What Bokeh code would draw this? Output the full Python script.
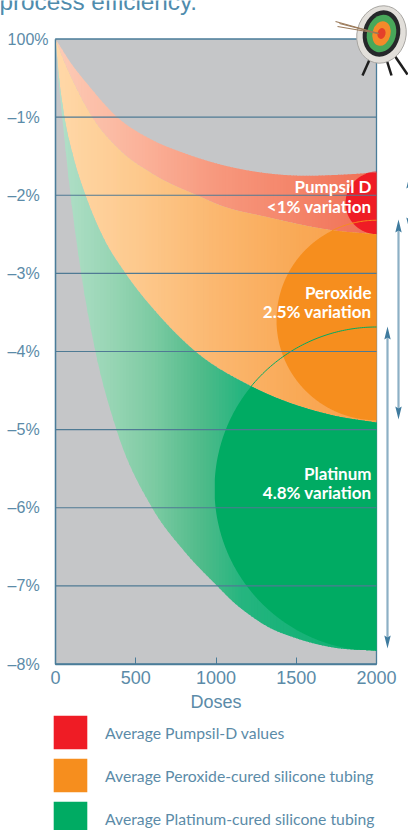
import numpy as np
from bokeh.plotting import figure
from bokeh.models import LinearAxis, FixedTicker, Legend, LegendItem, Range1d
from bokeh.core.properties import value
from bokeh.embed import file_html
from bokeh.resources import INLINE

# ---------- data ----------
pumpsil_upper_x = [0, 100, 200, 384, 600, 800, 1028, 1250, 1520, 1750, 2000]
pumpsil_upper_y = [0, -.32, -.58, -1, -1.29, -1.46, -1.607, -1.70, -1.75, -1.74, -1.71]
pumpsil_lower_x = [0, 50, 100, 229, 400, 600, 903, 1028, 1320, 1733, 2000]
pumpsil_lower_y = [0, -.27, -.5, -1, -1.42, -1.72, -2.02, -2.13, -2.28, -2.45, -2.5]
peroxide_lower_x = [0, 25, 56, 110, 187, 300, 436, 650, 872, 1215, 1733, 2000]
peroxide_lower_y = [0, -.55, -1, -1.5, -2, -2.55, -3, -3.55, -4, -4.44, -4.82, -4.91]
platinum_lower_x = [0, 20, 42, 94, 160, 249, 380, 602, 800, 1007, 1110, 1215, 1320, 1500, 1733, 2000]
platinum_lower_y = [0, -.55, -1, -2, -3, -4, -5, -6, -6.55, -7, -7.21, -7.38, -7.52, -7.67, -7.79, -7.83]
x_ticks = [0, 500, 1000, 1500, 2000]
y_ticks = [0, -1, -2, -3, -4, -5, -6, -7, -8]
y_labels = ["100%", "–1%\u00a0\u00a0", "–2%\u00a0\u00a0", "–3%\u00a0\u00a0", "–4%\u00a0\u00a0", "–5%\u00a0\u00a0", "–6%\u00a0\u00a0", "–7%\u00a0\u00a0", "–8%\u00a0\u00a0"]
band_centres = {"red": -2.1, "orange": -3.6, "green": -5.76}
band_radii_px = {"red": 31, "orange": 100, "green": 162}
legend_labels = ["Average Pumpsil-D values", "Average Peroxide-cured silicone tubing", "Average Platinum-cured silicone tubing"]

RED, ORANGE, GREEN = "#EF1C25", "#F68E1E", "#00AB63"
BLUE = "#5B8BA8"
DARK = "#4A7C99"
GREY = "#C5C6C8"
FONT = "Liberation Sans"
NARROW = "Lato"

W, H = 408, 830
L, R, T, B = 55, 376, 38.5, 663.5
sx = 2000 / (R - L)
sy = 8 / (B - T)
def X(px): return (np.asarray(px, float) - L) * sx
def Y(py): return -(np.asarray(py, float) - T) * sy

p = figure(width=W, height=H, output_backend="svg", toolbar_location=None,
           x_axis_type=None, y_axis_type=None, min_border=0,
           x_range=Range1d(float(X(0)), float(X(W))), y_range=Range1d(float(Y(H)), float(Y(0))),
           outline_line_color=None, background_fill_color="white", border_fill_color="white")
p.grid.visible = False

p.quad(left=[0], right=[2000], top=[0], bottom=[-8], fill_color=GREY, line_color=DARK, line_width=1.3)

grid_x = np.linspace(0, 2000, 801)

def smooth(xk, yk):
    xk, yk = np.asarray(xk, float), np.asarray(yk, float)
    m = np.gradient(yk, xk)
    i = np.clip(np.searchsorted(xk, grid_x, side="right") - 1, 0, len(xk) - 2)
    h = xk[i + 1] - xk[i]
    t = (grid_x - xk[i]) / h
    return ((2*t**3 - 3*t**2 + 1) * yk[i] + (t**3 - 2*t**2 + t) * h * m[i]
            + (-2*t**3 + 3*t**2) * yk[i + 1] + (t**3 - t**2) * h * m[i + 1])

up = smooth(pumpsil_upper_x, pumpsil_upper_y)
lo1 = smooth(pumpsil_lower_x, pumpsil_lower_y)
lo2 = smooth(peroxide_lower_x, peroxide_lower_y)
lo3 = smooth(platinum_lower_x, platinum_lower_y)

def hex_rgb(h): return np.array([int(h[i:i+2], 16) for i in (1, 3, 5)], float)
def ramp(stops, xx):
    pos = [s[0] for s in stops]
    cols = np.array([hex_rgb(s[1]) for s in stops])
    out = np.column_stack([np.interp(xx, pos, cols[:, i]) for i in range(3)])
    return ["#%02x%02x%02x" % tuple(int(round(v)) for v in c) for c in out]

red_ramp = [(0, "#FCCBB6"), (500, "#FBB39B"), (1000, "#F7987D"), (1500, "#F48469"), (2000, "#F06F55")]
org_ramp = [(0, "#FFD8A8"), (500, "#FDC98D"), (1000, "#FBB76F"), (1500, "#F9A956"), (2000, "#F8A04A")]
grn_ramp = [(0, "#B3E0C9"), (343, "#97D5B4"), (592, "#7DCBA3"), (903, "#4FBB8A"), (1152, "#25B57F"), (1400, "#1AB37A"), (2000, "#10AF70")]

def band(top, bottom, stops, step=8):
    idx = list(range(0, len(grid_x) - 1, step))
    xs, ys = [], []
    for i in idx:
        j = min(i + step + 2, len(grid_x) - 1)
        xx = grid_x[i:j + 1]
        xs.append(np.r_[xx, xx[::-1]].tolist())
        ys.append(np.r_[top[i:j + 1], bottom[i:j + 1][::-1]].tolist())
    p.patches(xs, ys, fill_color=ramp(stops, grid_x[idx]), line_color=None)

band(up, lo1, red_ramp)
band(lo1, lo2, org_ramp)
band(lo2, lo3, grn_ramp)

def solid(name, top, bottom, colour):
    r = band_radii_px[name]
    cy = band_centres[name]
    rx, ry = r * sx, r * sy
    u = np.clip((grid_x - 2000) / rx, -1, 0)
    h = ry * np.sqrt(1 - u ** 2)
    h[grid_x < 2000 - rx] = np.nan
    t = np.minimum(top, cy + h)
    b = np.maximum(bottom, cy - h)
    keep = np.isfinite(h) & (t > b)
    rend = p.varea(grid_x[keep], t[keep], b[keep], fill_color=colour)
    th = np.linspace(np.pi / 2, np.pi, 120)
    ax = 2000 + rx * np.cos(th)
    ay = cy + ry * np.sin(th)
    mask = ay >= np.interp(ax, grid_x, top) - 0.01
    p.line(ax[mask], ay[mask], line_color=colour, line_width=1)
    return rend

r_red = solid("red", up, lo1, RED)
r_org = solid("orange", lo1, lo2, ORANGE)
r_grn = solid("green", lo2, lo3, GREEN)

inner = y_ticks[1:-1]
p.segment(x0=[0] * len(inner), x1=[2000] * len(inner), y0=inner, y1=inner, line_color="#4F7A94", line_width=1.2)

xaxis = LinearAxis(fixed_location=-8, bounds=(0, 2000), ticker=FixedTicker(ticks=x_ticks),
                   axis_label="Doses", axis_label_text_font=FONT, axis_label_text_font_size="18px",
                   axis_label_text_font_style="normal", axis_label_text_color=BLUE, axis_label_standoff=4,
                   major_label_text_font=FONT, major_label_text_font_size="18px", major_label_text_color=BLUE,
                   major_label_standoff=7, major_tick_in=7, major_tick_out=0, major_tick_line_color=DARK,
                   minor_tick_line_color=None, axis_line_color=DARK, axis_line_width=1.3)
p.add_layout(xaxis, "below")
yaxis = LinearAxis(fixed_location=0, bounds=(-8, 0), ticker=FixedTicker(ticks=y_ticks),
                   major_label_overrides=dict(zip(y_ticks, y_labels)),
                   major_label_text_font=FONT, major_label_text_font_size="16px", major_label_text_color=BLUE,
                   major_label_standoff=7, major_tick_in=0, major_tick_out=0,
                   minor_tick_line_color=None, axis_line_color=DARK, axis_line_width=1.3)
p.add_layout(yaxis, "left")

notes = [("Pumpsil D", 186), ("<1% variation", 206), ("Peroxide", 292), ("2.5% variation", 311),
         ("Platinum", 473), ("4.8% variation", 492)]
p.text([2000 - 5 * sx] * 6, [float(Y(n[1])) for n in notes], text=[n[0] for n in notes],
       text_font=value(NARROW), text_font_style="bold", text_font_size="17px", text_color="white",
       text_align="right", text_baseline="middle")

p.text([float(X(-1))], [float(Y(1))], text=["process efficiency."], text_font=value(FONT),
       text_font_size="24.3px", text_color="#4F8CAD", text_align="left", text_baseline="alphabetic")

def arrow(px, top_py, bot_py):
    p.segment(float(X(px)), float(Y(top_py + 10)), float(X(px)), float(Y(bot_py - 10)), line_color="#8DB0C5", line_width=2.2)
    for tip, base in ((top_py, top_py + 13), (bot_py, bot_py - 13)):
        p.patch(X([px - 3.2, px, px + 3.2, px]).tolist(), Y([base, tip, base, base - (base - tip) * .15]).tolist(),
                fill_color="#3F7B9E", line_color=None)
arrow(398, 219, 419)
arrow(387, 326, 648)
arrow(409, 175, 230)

for a, b, c, d in [(370, 57, 362, 75), (386, 59, 391, 75), (394, 55, 407, 74)]:
    p.segment(float(X(a)), float(Y(b)), float(X(c)), float(Y(d)), line_color="#1E1E1E", line_width=2.5)
for (cx, cy, w, h, c, lc) in [(381, 34, 49, 58, "#E2DFDA", "#A8A6A2"), (381, 33, 37, 47, "#26282A", None), (381, 33, 29, 38, "#48A85A", None),
                              (381, 33, 18, 25, "#F58A2A", None), (381, 33, 8, 11, "#E5402A", None)]:
    p.ellipse(float(X(cx)), float(Y(cy)), width=w * sx, height=h * sy, angle=-0.25, fill_color=c, line_color=lc)
for a, b in [(335, 21), (337, 26), (339, 23)]:
    p.segment(float(X(a)), float(Y(b)), float(X(378)), float(Y(33)), line_color="#9B7A5A", line_width=1.2)

legend = Legend(items=[LegendItem(label=t, renderers=[r]) for t, r in zip(legend_labels, [r_red, r_org, r_grn])],
                location=(49, -9), orientation="vertical", glyph_width=42, glyph_height=42, spacing=1,
                label_standoff=14, label_text_font=NARROW, label_text_font_size="15.75px", label_text_color=BLUE,
                border_line_color=None, background_fill_alpha=0, padding=0, margin=0, label_height=42)
p.add_layout(legend, "center")

open("out.html", "w").write(file_html(p, INLINE))
